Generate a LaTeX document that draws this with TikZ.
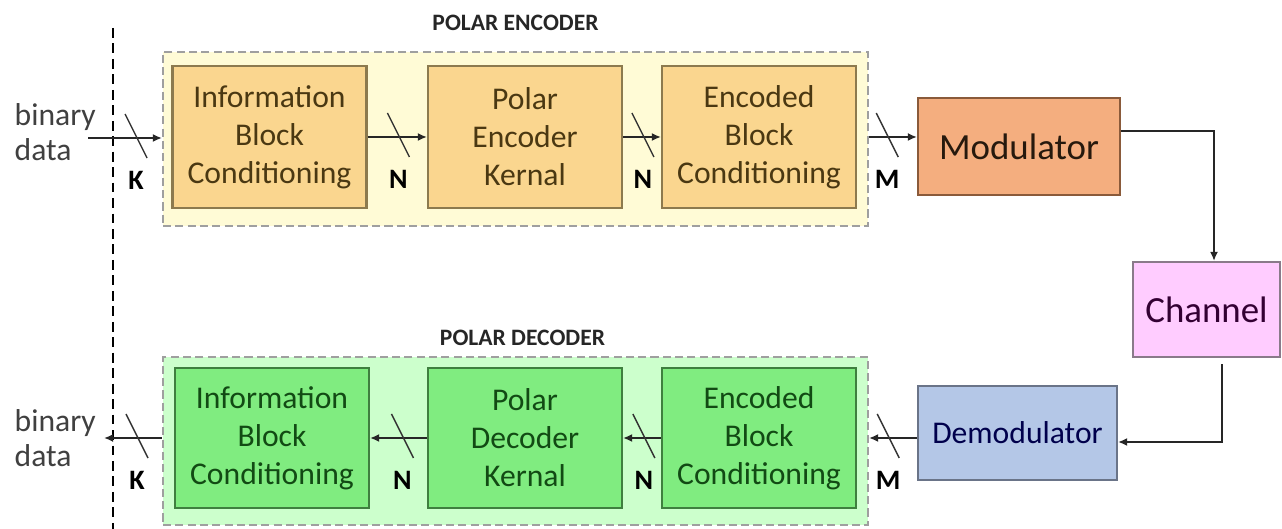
\documentclass[tikz,border=0pt]{standalone}
\usepackage{fontspec}
\setmainfont{Carlito}
\usepackage{xcolor}
\usepackage{tikz}
\usetikzlibrary{arrows.meta,positioning,calc}
\definecolor{encbg}{HTML}{FFFBD6}
\definecolor{encfill}{HTML}{FAD68F}
\definecolor{encdraw}{HTML}{8C7A4E}
\definecolor{enctext}{HTML}{4A3812}
\definecolor{decbg}{HTML}{CCFFCC}
\definecolor{decfill}{HTML}{80EC80}
\definecolor{decdraw}{HTML}{3F7F3F}
\definecolor{dectext}{HTML}{124A14}
\definecolor{modfill}{HTML}{F4AE7F}
\definecolor{moddraw}{HTML}{8A5A3A}
\definecolor{chanfill}{HTML}{FFCCFF}
\definecolor{chandraw}{HTML}{8A7A8A}
\definecolor{demodfill}{HTML}{B4C7E7}
\definecolor{demoddraw}{HTML}{6A7488}
\tikzset{
  blk/.style    ={draw,line width=0.6pt,inner sep=0pt,align=center},
  encblk/.style ={blk,fill=encfill,draw=encdraw,text=enctext,minimum width=1.94cm,minimum height=1.42cm,font=\fontsize{9}{10.8}\selectfont},
  decblk/.style ={blk,fill=decfill,draw=decdraw,text=dectext,minimum width=1.94cm,minimum height=1.40cm,font=\fontsize{9}{10.8}\selectfont},
  grp/.style    ={draw=gray!75,line width=0.6pt,dash pattern=on 2.3pt off 1.2pt,minimum width=7.05cm,inner sep=0pt},
  grptitle/.style={font=\fontsize{6.7}{7}\selectfont\bfseries,inner sep=0pt,text=black!85},
  flow/.style   ={line width=0.6pt,black!85,-{Latex[length=0.9mm,width=0.8mm]}},
  busmark/.style={line width=0.4pt,black!80},
  buslbl/.style ={font=\fontsize{8}{8}\selectfont\bfseries,inner sep=0pt},
  datalbl/.style={font=\fontsize{9}{10}\selectfont,align=left,inner sep=0pt,text=black!75,anchor=west},
  divider/.style={line width=0.8pt,dash pattern=on 2.8pt off 1.6pt},
}
\begin{document}
\begin{tikzpicture}
  \useasboundingbox (0,0) rectangle (12.82,-5.29);
  \draw[divider] (1.13,-0.28) -- (1.13,-5.29);
  \node[grp,fill=encbg,minimum height=1.74cm] (encbox) at (5.155,-1.39){};
  \node[grptitle,above=2mm of encbox] (enctitle){POLAR ENCODER};
  \node[encblk] (e1) at (2.695,-1.37){Information\\Block\\Conditioning};
  \node[encblk] (e2) at (5.25,-1.37){Polar\\Encoder\\Kernal};
  \node[encblk] (e3) at (7.59,-1.37){Encoded\\Block\\Conditioning};
  \node[blk,fill=modfill,draw=moddraw,text=black!80!brown,minimum width=2.02cm,minimum height=0.97cm,font=\fontsize{10.5}{12}\selectfont] (mod) at (10.19,-1.465){Modulator};
  \node[blk,fill=chanfill,draw=chandraw,text=violet!40!black,minimum width=1.47cm,minimum height=0.95cm,font=\fontsize{10.5}{12}\selectfont] (chan) at (12.065,-3.095){Channel};
  \node[blk,fill=demodfill,draw=demoddraw,text=blue!30!black,minimum width=1.99cm,minimum height=0.94cm,font=\fontsize{9}{11}\selectfont] (demod) at (10.175,-4.33){Demodulator};
  \node[grp,fill=decbg,minimum height=1.68cm] (decbox) at (5.155,-4.41){};
  \node[grptitle,above=1mm of decbox,xshift=0.07cm] (dectitle){POLAR DECODER};
  \node[decblk] (d1) at (2.72,-4.38){Information\\Block\\Conditioning};
  \node[decblk] (d2) at (5.25,-4.38){Polar\\Decoder\\Kernal};
  \node[decblk] (d3) at (7.59,-4.38){Encoded\\Block\\Conditioning};
  \node[datalbl] (bin1) at (0.14,-1.32){binary\\data};
  \node[datalbl] (bin2) at (0.14,-4.38){binary\\data};
  \coordinate (src) at (0.88,-1.38); \coordinate (snk) at (1.04,-4.38);
  \draw[flow] (src) -- coordinate[pos=.65] (k1) (encbox.west |- src);
  \draw[flow] (e1) -- coordinate[pos=.52] (n1) (e2);
  \draw[flow] (e2) -- coordinate[pos=.525] (n2) (e3);
  \draw[flow] (encbox.east |- e3) -- coordinate[pos=.38] (m1) (mod.west |- e3);
  \draw[flow] ([yshift=-3.4mm]mod.north east) -| ([xshift=.75mm]chan.north);
  \draw[flow] ([xshift=1.55mm,yshift=-.6mm]chan.south) |- ([yshift=-.9mm]demod.east);
  \draw[flow] (demod.west |- d3) -- coordinate[pos=.6] (m2) (decbox.east |- d3);
  \draw[flow] (d3) -- coordinate[pos=.45] (n3) (d2);
  \draw[flow] (d2) -- coordinate[pos=.43] (n4) (d1);
  \draw[flow] (decbox.west |- d1) -- coordinate[pos=.43] (k2) (snk);
  \foreach \s in {k1,n1,n2,m1,m2,n3,n4,k2}{\draw[busmark] ([shift={(-.11,.24)}]\s) -- ([shift={(.11,-.2)}]\s);}
  \foreach \s/\t in {k1/K,n1/N,n2/N,m1/M,m2/M,n3/N,n4/N,k2/K}{\node[buslbl,below=3.3mm of \s] (l\s) {\t};}
\end{tikzpicture}
\end{document}
